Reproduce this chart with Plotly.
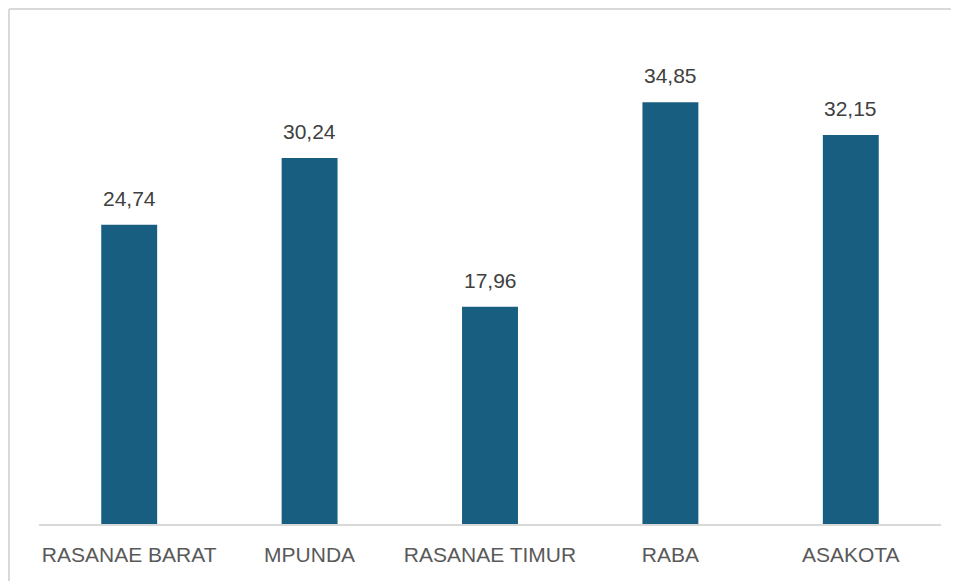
import plotly.graph_objects as go

categories = ["RASANAE BARAT", "MPUNDA", "RASANAE TIMUR", "RABA", "ASAKOTA"]
values = [24.74, 30.24, 17.96, 34.85, 32.15]
labels = ["24,74", "30,24", "17,96", "34,85", "32,15"]

BAR_COLOR = "#185E80"
FONT = "Liberation Sans, Arial, sans-serif"

fig = go.Figure()
fig.add_trace(go.Bar(
    x=categories, y=values,
    marker=dict(color=BAR_COLOR, line=dict(width=0)),
    width=0.31,
    hoverinfo="skip",
))

for c, v, t in zip(categories, values, labels):
    fig.add_annotation(
        x=c, y=v, text=t, showarrow=False,
        xanchor="center", yanchor="bottom", yshift=13,
        font=dict(family=FONT, size=21, color="#404040"),
    )

# outer frame: top and left edges only (the rest lies outside the window)
for sx0, sy0, sx1, sy1 in [(-0.0333, 1.064, 1.5, 1.064), (-0.0333, 1.064, -0.0333, -0.5)]:
    fig.add_shape(
        type="line", xref="paper", yref="paper",
        x0=sx0, y0=sy0, x1=sx1, y1=sy1,
        line=dict(color="#D9D9D9", width=2), layer="below",
    )

fig.update_layout(
    width=951, height=573,
    margin=dict(l=31, r=18, t=32, b=57, autoexpand=False),
    paper_bgcolor="white", plot_bgcolor="white",
    showlegend=False,
    font=dict(family=FONT),
    xaxis=dict(
        showline=True, linecolor="#D9D9D9", linewidth=1.5,
        ticks="", showgrid=False, zeroline=False, automargin=False,
        tickfont=dict(family=FONT, size=21, color="#595959"),
        ticklabelstandoff=11,
        range=[-0.5, 4.5],
    ),
    yaxis=dict(
        range=[0, 40], visible=False, showgrid=False, zeroline=False,
    ),
)

fig.write_html("out.html")
